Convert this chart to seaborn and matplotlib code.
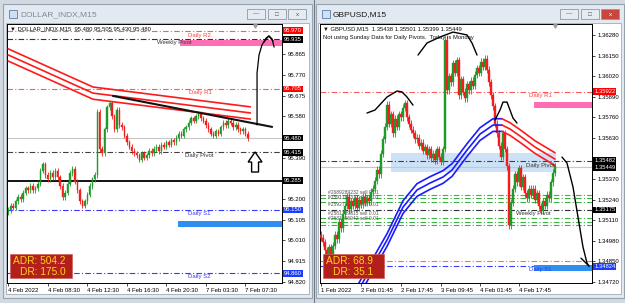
import numpy as np
import matplotlib
matplotlib.use("Agg")
import matplotlib.pyplot as plt
import matplotlib.transforms as mtransforms
from matplotlib.patches import Rectangle, Polygon
import seaborn as sns

sns.set_style("white")
plt.rcParams['font.family'] = ['Liberation Sans', 'DejaVu Sans']

W, H = 625, 303
GREEN = '#1f9a2a'
RED = '#f21d1d'
MA_RED = '#ff1a1a'
MA_BLUE = '#1a1aff'
DD = (0, (5, 2, 1, 2))

# ---------------- DOLLAR_INDX, M15 ----------------
dx_open0 = 95.14
dx_close = [
    95.15, 95.17, 95.16, 95.19, 95.21, 95.20, 95.23, 95.25, 95.24, 95.26,
    95.24, 95.25, 95.27, 95.33, 95.36, 95.31, 95.29, 95.32, 95.30, 95.33,
    95.30, 95.26, 95.21, 95.23, 95.27, 95.32, 95.34, 95.28, 95.24, 95.19,
    95.17, 95.19, 95.22, 95.26, 95.29, 95.31,
    95.60, 95.43, 95.41, 95.52, 95.62, 95.64, 95.58, 95.52, 95.61, 95.54,
    95.53, 95.49, 95.46, 95.44, 95.42, 95.41, 95.40, 95.38, 95.41, 95.39,
    95.40, 95.42, 95.41, 95.43, 95.44, 95.42, 95.45, 95.44, 95.46, 95.45,
    95.47, 95.46, 95.48, 95.50, 95.49, 95.52, 95.53, 95.55, 95.57, 95.56,
    95.58, 95.59, 95.57, 95.56, 95.54, 95.52, 95.50, 95.49, 95.51, 95.50,
    95.53, 95.55, 95.54, 95.56, 95.55, 95.53, 95.54, 95.52, 95.51, 95.52,
    95.50, 95.48,
]
dx_time_bars = [0, 16, 32, 48, 64, 80, 96]
dx_time_labels = ["4 Feb 2022", "4 Feb 08:30", "4 Feb 12:30", "4 Feb 16:30",
                  "4 Feb 20:30", "7 Feb 03:30", "7 Feb 07:30"]
dx_yticks = [95.865, 95.770, 95.675, 95.580, 95.485, 95.390, 95.295,
             95.200, 95.105, 95.010, 94.915, 94.820]
dx_ytick_hidden = [95.485, 95.295]
dx_ma_bars = [0, 34.3, 98]
dx_ma_mid = [95.861, 95.686, 95.595]
dx_trend_bars = [42.4, 106.8]
dx_trend = [95.673, 95.531]
dx_levels = [95.970, 95.935, 95.705, 95.480, 95.415, 95.285, 95.150, 94.860]
dx_level_colors = ['#ff5a5a', '#303030', '#ff5a5a', '#c8c8c8', '#404040', 'black', '#3a3aff', '#3a3aff']
dx_level_styles = [DD, DD, DD, '-', DD, '-', DD, DD]
dx_box_colors = ['#ff0000', 'black', '#ff0000', 'black', 'black', 'black', '#1e3cff', '#1e3cff']
dx_box_pos = [95.972, 95.933, 95.705, 95.480, 95.415, 95.285, 95.150, 94.860]
dx_labels = ["Daily R2", "Weekly Pivot", "Daily R1", "Daily Pivot", "Daily S1", "Daily S2"]
dx_label_levels = [95.970, 95.935, 95.705, 95.415, 95.150, 94.860]
dx_label_bars = [72.8, 60.2, 73.2, 71.6, 72.8, 72.8]
dx_label_colors = ['#ff4040', '#333333', '#ff4040', '#333333', '#3a3aff', '#3a3aff']
dx_draw_bars = [100.7, 100.7, 100.7, 101.5, 102.7, 104.4, 105.6, 106.8, 107.6]
dx_draw = [95.540, 95.654, 95.778, 95.861, 95.907, 95.939, 95.948, 95.934, 95.897]

# ---------------- GBPUSD, M15 ----------------
gu_open0 = 1.3502
gu_close = [
    1.3500, 1.3497, 1.3492, 1.3488, 1.3494, 1.3486, 1.3495, 1.3502, 1.3499, 1.3510,
    1.3506, 1.3515, 1.3520, 1.3526, 1.3518, 1.3523, 1.3520, 1.3525, 1.3519, 1.3524,
    1.3521, 1.3526, 1.3522, 1.3525, 1.3523, 1.3529, 1.3531, 1.3536, 1.3543, 1.3540,
    1.3553, 1.3562, 1.3570, 1.3584, 1.3572, 1.3578, 1.3566, 1.3575, 1.3570, 1.3578,
    1.3576, 1.3582, 1.3585, 1.3576, 1.3572, 1.3568, 1.3566, 1.3562, 1.3563, 1.3558,
    1.3560, 1.3555, 1.3557, 1.3552, 1.3556, 1.3550, 1.3553, 1.3549, 1.3556, 1.3551,
    1.3548, 1.3556, 1.3625, 1.3593, 1.3602, 1.3598, 1.3610, 1.3604, 1.3612, 1.3590,
    1.3600, 1.3592, 1.3588, 1.3597, 1.3593, 1.3599, 1.3596, 1.3603, 1.3607, 1.3604,
    1.3611, 1.3608, 1.3613, 1.3606, 1.3598, 1.3590, 1.3583, 1.3572, 1.3566, 1.3558,
    1.3551, 1.3566, 1.3556, 1.3545, 1.3508, 1.3522, 1.3531, 1.3540, 1.3535, 1.3544,
    1.3532, 1.3538, 1.3528, 1.3525, 1.3531, 1.3527, 1.3531, 1.3524, 1.3528, 1.3520,
    1.3517, 1.3523, 1.3520, 1.3527, 1.3525, 1.3535, 1.3541, 1.3545,
]
gu_time_bars = [0, 20, 40, 60, 79.5, 99]
gu_time_labels = ["1 Feb 2022", "2 Feb 01:45", "2 Feb 17:45", "3 Feb 09:45",
                  "4 Feb 01:45", "4 Feb 17:45"]
gu_yticks = [1.36280, 1.36150, 1.36020, 1.35890, 1.35760, 1.35630, 1.35500,
             1.35370, 1.35240, 1.35110, 1.34980, 1.34850, 1.34720]
gu_ytick_hidden = [1.35500]
gu_blue_bars = [17, 33, 41, 48, 54.5, 61, 65.5, 73, 79.5, 86, 90.5]
gu_blue_mid = [1.34631, 1.34985, 1.35193, 1.35301, 1.35345, 1.35383, 1.35427,
               1.35553, 1.35654, 1.35711, 1.35711]
gu_red_bars = [90.5, 94.5, 99.5, 107, 117]
gu_red_mid = [1.35711, 1.35686, 1.35642, 1.35572, 1.35496]
gu_levels = [1.35922, 1.35482, 1.35449, 1.35269, 1.35250, 1.35225, 1.35175,
             1.35124, 1.35099, 1.35080, 1.34852, 1.34824]
gu_level_colors = ['#ff5a5a', '#404040', '#c8c8c8', '#3cb043', '#3cb043', '#3cb043', '#303030',
                   '#3cb043', '#3cb043', '#3cb043', '#ff7043', '#3a3aff']
gu_level_styles = [DD, DD, '-', DD, DD, DD, DD, DD, DD, DD, DD, DD]
gu_boxes = [1.35922, 1.35482, 1.35449, 1.35175, 1.34824]
gu_box_pos = [1.35922, 1.35489, 1.35442, 1.35175, 1.34820]
gu_box_colors = ['#ff0000', 'black', 'black', 'black', '#1e3cff']
gu_labels = ["Daily R1", "Daily Pivot", "Weekly Pivot", "Daily S1"]
gu_label_levels = [1.35922, 1.35482, 1.35175, 1.34824]
gu_label_bars = [104, 102.5, 97.5, 104]
gu_label_colors = ['#ff4040', '#333333', '#333333', '#3a3aff']
gu_orders = ["#2689289232 sell 0.01", "#2591789317 sell 0.01", "#2592771517 sell 0.01",
             "#2581789815 sell 0.01", "#2631756042 sell 0.01"]
gu_order_levels = [1.35285, 1.35255, 1.35210, 1.35150, 1.35120]
gu_curves_bars = [
    [23, 27, 33, 38, 40.5, 43, 46],
    [48.5, 53, 59.5, 66, 73, 75.5, 78],
    [87, 89.5, 91, 93, 94.5, 96, 98],
    [120.5, 123, 126, 128.5, 131, 133, 134],
]
gu_curves = [
    [1.35787, 1.35806, 1.35888, 1.35926, 1.35920, 1.35888, 1.35837],
    [1.36153, 1.36229, 1.36267, 1.36298, 1.36280, 1.36229, 1.36153],
    [1.35743, 1.35806, 1.35856, 1.35856, 1.35806, 1.35755, 1.35724],
    [1.35509, 1.35471, 1.35320, 1.35130, 1.34941, 1.34840, 1.34821],
]


def fr(x0, y0, x1, y1):
    return [x0 / W, 1 - y1 / H, (x1 - x0) / W, (y1 - y0) / H]


def candles(ax, closes, first_open, wick, width):
    c = np.asarray(closes, float)
    o = np.r_[first_open, c[:-1]]
    x = np.arange(len(c))
    col = np.where(c >= o, GREEN, RED)
    ax.vlines(x, np.minimum(o, c) - wick, np.maximum(o, c) + wick, colors=col, lw=0.6, zorder=3)
    body = np.where(np.abs(c - o) < wick * 0.3, wick * 0.3, c - o)
    ax.bar(x, body, bottom=o, width=width, color=col, edgecolor=col, linewidth=0.3, zorder=3)


def style_axes(ax, xlim, ylim, yticks, hidden, fmt, tbars, tlabels):
    ax.set_xlim(*xlim)
    ax.set_ylim(*ylim)
    ax.set_facecolor('white')
    for s in ax.spines.values():
        s.set_color('black')
        s.set_linewidth(0.7)
        s.set_visible(True)
    ax.yaxis.tick_right()
    ax.set_yticks(yticks)
    ax.set_yticklabels(['' if v in hidden else fmt % v for v in yticks])
    ax.set_xticks(tbars)
    ax.set_xticklabels(tlabels, ha='left')
    ax.tick_params(axis='y', right=True, left=False, length=2, width=0.5, pad=2,
                   labelsize=4.3, colors='black')
    ax.tick_params(axis='x', bottom=True, length=2, width=0.5, pad=1.5,
                   labelsize=4.3, colors='black')
    ax.set_xlabel('')
    ax.set_ylabel('')


def price_boxes(ax, vals, pos, cols, fmt):
    tr = mtransforms.blended_transform_factory(ax.transAxes, ax.transData)
    for v, p, c in zip(vals, pos, cols):
        ax.text(1.008, p, fmt % v, transform=tr, fontsize=4.2, color='white',
                va='center', ha='left', zorder=10, clip_on=False,
                bbox=dict(boxstyle='square,pad=0.15', fc=c, ec='none'))


fig = plt.figure(figsize=(W / 100, H / 100), dpi=100)

# ---- window chrome (pixel coordinates) ----
bg = fig.add_axes([0, 0, 1, 1], zorder=0)
bg.set_xlim(0, W)
bg.set_ylim(H, 0)
bg.axis('off')
bg.add_patch(Rectangle((0, 0), W, H, fc='#d3d9e0', ec='none'))
for x0, x1 in [(3, 312), (316, 624)]:
    bg.add_patch(Rectangle((x0, 4), x1 - x0, 294, fc='#e2e9f1', ec='#96a3b1', lw=0.8))
for x0, x1 in [(6, 309), (318, 621)]:
    bg.add_patch(Rectangle((x0, 23), x1 - x0, 271, fc='white', ec='#a4aab2', lw=0.6))
bg.plot([314, 314], [0, H], color='#6f7780', lw=0.8)
for x0, title, tcol in [(9, "DOLLAR_INDX,M15", '#7f8893'), (322, "GBPUSD,M15", '#1c1c1c')]:
    bg.add_patch(Rectangle((x0, 10), 8, 8, fc='#cfe0f2', ec='#5a7fa8', lw=0.6))
    bg.text(x0 + 11, 14.5, title, fontsize=6, color=tcol, va='center', ha='left')
for bx0, close_col in [(247, '#e6ebf1'), (560, '#c8463c')]:
    for k, (sym, fc) in enumerate([("\u2014", '#e6ebf1'), ("\u25a1", '#e6ebf1'), ("x", close_col)]):
        xx = bx0 + k * 20.5
        bg.add_patch(Rectangle((xx, 9), 18, 10, fc=fc, ec='#8e99a6', lw=0.6))
        bg.text(xx + 9, 14, sym, fontsize=4.5, ha='center', va='center',
                color='white' if fc == '#c8463c' else '#555555')

# ---- DOLLAR_INDX chart ----
ax1 = fig.add_axes(fr(7, 24, 282, 283), zorder=1)
style_axes(ax1, (-0.5, 110.8), (94.815, 96.003), dx_yticks, dx_ytick_hidden, '%.3f',
           dx_time_bars, dx_time_labels)
for v, c, s in zip(dx_levels, dx_level_colors, dx_level_styles):
    ax1.axhline(v, color=c, ls=s, lw=1.3 if c == 'black' else 0.8, zorder=2)
ax1.add_patch(Rectangle((69.5, 95.902), 110.8 - 69.5, 0.028, fc='#ff6eb4', ec='none', zorder=2))
ax1.add_patch(Rectangle((68.7, 95.072), 110.8 - 68.7, 0.027, fc='#2f8ff0', ec='none', zorder=2))
candles(ax1, dx_close, dx_open0, 0.012, 0.55)
for off in (-0.028, 0.0, 0.028):
    sns.lineplot(x=dx_ma_bars, y=np.array(dx_ma_mid) + off, ax=ax1, color=MA_RED,
                 lw=1.2, sort=False, estimator=None, legend=False, zorder=4)
sns.lineplot(x=dx_trend_bars, y=dx_trend, ax=ax1, color='#111111', lw=1.5,
             sort=False, estimator=None, legend=False, zorder=5)
ax1.plot(dx_draw_bars, dx_draw, color='black', lw=0.9, zorder=6)
ax1.plot([103.5, 105.4, 107.2], [95.920, 95.948, 95.925], color='black', lw=0.9, zorder=6)
ax1.add_patch(Polygon([(99.9, 95.416), (97.1, 95.370), (98.5, 95.370), (98.5, 95.324),
                       (101.3, 95.324), (101.3, 95.370), (102.7, 95.370)],
                      closed=True, fc='white', ec='black', lw=1.0, zorder=5))
for t, v, b, c in zip(dx_labels, dx_label_levels, dx_label_bars, dx_label_colors):
    ax1.text(b, v - 0.006, t, fontsize=4.3, color=c, va='top', ha='left', zorder=6)
price_boxes(ax1, dx_levels, dx_box_pos, dx_box_colors, '%.3f')

# ---- GBPUSD chart ----
ax2 = fig.add_axes(fr(320, 24, 592, 283), zorder=1)
style_axes(ax2, (-0.5, 135.5), (1.34714, 1.36349), gu_yticks, gu_ytick_hidden, '%.5f',
           gu_time_bars, gu_time_labels)
ax2.add_patch(Rectangle((35, 1.35414), 117.5 - 35, 0.0012, fc='#cde2f7', ec='none', zorder=1.5))
for v, c, s in zip(gu_levels, gu_level_colors, gu_level_styles):
    ax2.axhline(v, color=c, ls=s, lw=0.8, zorder=2)
ax2.add_patch(Rectangle((106.5, 1.35818), 135.5 - 106.5, 0.00038, fc='#ff6eb4', ec='none', zorder=2))
ax2.add_patch(Rectangle((106.5, 1.34789), 135.5 - 106.5, 0.00038, fc='#2f8ff0', ec='none', zorder=2))
for t, v in zip(gu_orders, gu_order_levels):
    ax2.text(3.5, v, t, fontsize=3.6, color='#555555', va='center', ha='left', zorder=2.5)
candles(ax2, gu_close, gu_open0, 0.00022, 0.7)
for off in (-0.0004, 0.0, 0.0004):
    sns.lineplot(x=gu_blue_bars, y=np.array(gu_blue_mid) + off, ax=ax2, color=MA_BLUE,
                 lw=1.2, sort=False, estimator=None, legend=False, zorder=4)
    sns.lineplot(x=gu_red_bars, y=np.array(gu_red_mid) + off, ax=ax2, color=MA_RED,
                 lw=1.2, sort=False, estimator=None, legend=False, zorder=4)
for cx, cy in zip(gu_curves_bars, gu_curves):
    ax2.plot(cx, cy, color='black', lw=1.0, zorder=6)
ax2.plot([130, 134], [1.34871, 1.34821], color='black', lw=1.0, zorder=6)
for t, v, b, c in zip(gu_labels, gu_label_levels, gu_label_bars, gu_label_colors):
    ax2.text(b, v - 0.00008, t, fontsize=4.3, color=c, va='top', ha='left', zorder=6)
price_boxes(ax2, gu_boxes, gu_box_pos, gu_box_colors, '%.5f')

# ---- overlay: headers and ADR boxes ----
ov = fig.add_axes([0, 0, 1, 1], zorder=8)
ov.set_xlim(0, W)
ov.set_ylim(H, 0)
ov.axis('off')
ov.text(10, 29, "\u25bc DOLLAR_INDX,M15  95.480 95.505 95.430 95.480", fontsize=4.2,
        color='#111111', va='center', ha='left')
ov.text(323, 29, "\u25bc GBPUSD,M15  1.35438 1.35501 1.35399 1.35449", fontsize=4.2,
        color='#111111', va='center', ha='left')
ov.text(323, 37.5, "Not using Sunday Data for Daily Pivots.  Today is Monday", fontsize=4.2,
        color='#111111', va='center', ha='left')
ov.plot([255, 555], [25.5, 25.5], ls='none', marker='v', ms=2.5, color='#a0a0a0')
for x0, x1, a, d in [(10, 72, "ADR: 504.2", "DR: 175.0"), (323, 384, "ADR: 68.9", "DR: 35.1")]:
    ov.add_patch(Rectangle((x0, 254), x1 - x0, 24, fc='#b3201c', ec='#d0605a', lw=0.5))
    ov.text(x0 + 3, 260.5, a, fontsize=7.3, color='#ffd21a', va='center', ha='left')
    ov.text(x0 + 10, 272, d, fontsize=7.3, color='#ffd21a', va='center', ha='left')

fig.savefig("out.png", dpi=100)
